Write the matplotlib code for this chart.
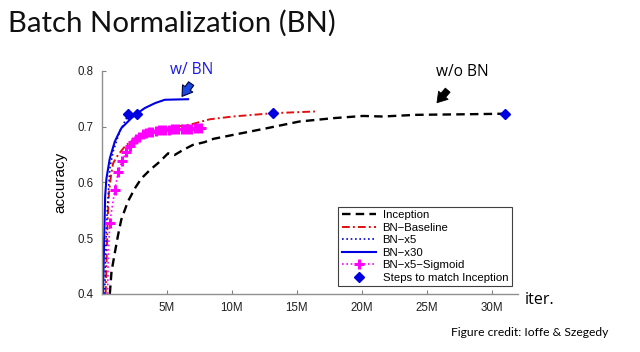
import matplotlib
matplotlib.use("Agg")
import matplotlib.pyplot as plt

# ---- data (x in millions of iterations) ----
inc_x = [0.62, 0.75, 1.0, 1.25, 1.5, 2.0, 2.54, 3.05, 3.7, 4.46, 5.1, 5.6, 6.25, 7.0, 7.9, 8.6,
         10.1, 12.7, 15.2, 17.8, 20.1, 21.6, 24.2, 28.0, 31.0]
inc_y = [0.40, 0.44, 0.473, 0.505, 0.533, 0.565, 0.589, 0.607, 0.622, 0.637, 0.652, 0.649, 0.658,
         0.667, 0.672, 0.678, 0.685, 0.697, 0.709, 0.715, 0.719, 0.718, 0.721, 0.722, 0.723]

base_x = [0.30, 0.38, 0.45, 0.55, 0.70, 0.87, 1.25, 1.8, 2.5, 3.5, 5.0, 6.9, 8.3, 10.1, 13.2, 16.4]
base_y = [0.40, 0.47, 0.53, 0.58, 0.61, 0.634, 0.649, 0.665, 0.678, 0.688, 0.697, 0.704, 0.713,
          0.718, 0.724, 0.727]

x5_x = [0.23, 0.31, 0.41, 0.49, 0.62, 0.87, 1.38, 1.9, 2.02]
x5_y = [0.40, 0.485, 0.545, 0.575, 0.625, 0.655, 0.691, 0.715, 0.723]

x30_x = [0.10, 0.18, 0.26, 0.36, 0.62, 1.0, 1.5, 2.28, 2.7, 3.3, 4.1, 4.85, 6.64]
x30_y = [0.40, 0.49, 0.575, 0.607, 0.643, 0.673, 0.697, 0.715, 0.723, 0.733, 0.742, 0.748, 0.749]

sig_x = [0.45, 0.50, 0.62, 1.0, 1.26, 1.56, 1.9, 2.15, 2.4, 2.65, 2.9, 3.15, 3.4, 3.65, 3.9, 4.15,
         4.4, 4.65, 4.9, 5.15, 5.4, 5.65, 5.9, 6.15, 6.4, 6.65, 6.9, 7.15, 7.4, 7.66]
sig_y = [0.40, 0.47, 0.528, 0.586, 0.618, 0.638, 0.655, 0.665, 0.672, 0.677, 0.682, 0.686, 0.688,
         0.690, 0.691, 0.692, 0.693, 0.693, 0.694, 0.694, 0.695, 0.695, 0.695, 0.696, 0.696, 0.696,
         0.696, 0.697, 0.697, 0.697]

match_x = [2.02, 2.7, 13.2, 31.0]
match_y = [0.723, 0.723, 0.724, 0.723]

xticks = [5, 10, 15, 20, 25, 30]
xtick_labels = ["5M", "10M", "15M", "20M", "25M", "30M"]
yticks = [0.4, 0.5, 0.6, 0.7, 0.8]
ytick_labels = ["0.4", "0.5", "0.6", "0.7", "0.8"]

labels = ["Inception", "BN\u2212Baseline", "BN\u2212x5", "BN\u2212x30", "BN\u2212x5\u2212Sigmoid",
          "Steps to match Inception"]

BLUE = "#0000e0"
RED = "#e01010"
MAG = "#ff00ff"

fig = plt.figure(figsize=(6.4, 3.52), dpi=100)
fig.patch.set_facecolor("white")
ax = fig.add_axes([0.159, 0.165, 0.650, 0.634])

tick_font = dict(family=["Liberation Sans", "DejaVu Sans"], size=8.3)

l_inc, = ax.plot(inc_x, inc_y, ls=(0, (3.6, 2.2)), color="black", lw=1.7)
l_base, = ax.plot(base_x, base_y, ls=(0, (4, 1.6, 1, 1.6)), color=RED, lw=1.4)
l_x5, = ax.plot(x5_x, x5_y, ls=(0, (1, 1.6)), color=BLUE, lw=1.2)
l_x30, = ax.plot(x30_x, x30_y, ls="-", color=BLUE, lw=1.5)
l_sig, = ax.plot(sig_x, sig_y, ls=(0, (1, 1.6)), color=MAG, lw=1.2, marker="+",
                 markersize=7, markeredgewidth=2.2, markevery=slice(2, None))
l_match, = ax.plot(match_x, match_y, ls="none", marker="D", markersize=5.5, color=BLUE,
                   markeredgecolor=BLUE)

ax.set_xlim(0, 32)
ax.set_ylim(0.4, 0.8)
ax.set_xticks(xticks)
ax.set_xticklabels(xtick_labels, **tick_font)
ax.set_yticks(yticks)
ax.set_yticklabels(ytick_labels, **tick_font)
ax.tick_params(direction="in", length=3, width=0.8, colors="#808080", labelcolor="#202020", pad=6)
for s in ["top", "right"]:
    ax.spines[s].set_visible(False)
for s in ["left", "bottom"]:
    ax.spines[s].set_color("#909090")
    ax.spines[s].set_linewidth(1.0)

ax.set_ylabel("accuracy", family=["Liberation Sans", "DejaVu Sans"], size=11, labelpad=7)

leg = ax.legend([l_inc, l_base, l_x5, l_x30, l_sig, l_match], labels,
                loc="lower right", bbox_to_anchor=(0.985, 0.035), fancybox=False,
                framealpha=1, edgecolor="#404040", prop=dict(family="Liberation Sans", size=8.2),
                handlelength=3.0, labelspacing=0.22, borderpad=0.3, handletextpad=0.6,
                borderaxespad=0)
leg.get_frame().set_linewidth(0.8)

# annotations
ax.text(6.9, 0.801, "w/ BN", color="#1a1ae6", family="Open Sans", size=11.2, ha="center",
        va="center", clip_on=False)
ax.annotate("", xy=(6.05, 0.750), xytext=(7.0, 0.781), annotation_clip=False,
            arrowprops=dict(arrowstyle="simple,head_length=0.7,head_width=0.9,tail_width=0.45",
                            fc="#1848e0", ec="#000040", lw=0.8))
ax.text(27.7, 0.798, "w/o BN", color="black", family="Open Sans", size=11.2, ha="center",
        va="center", clip_on=False)
ax.annotate("", xy=(25.65, 0.739), xytext=(26.75, 0.769), annotation_clip=False,
            arrowprops=dict(arrowstyle="simple,head_length=0.7,head_width=0.9,tail_width=0.45",
                            fc="black", ec="black", lw=0.6))

fig.text(8 / 640, 1 - 23 / 352, "Batch Normalization (BN)", family="Lato", size=21.2,
         ha="left", va="center", color="#111111")
fig.text(525 / 640, 1 - 300 / 352, "iter.", family="Open Sans", size=11.5, ha="left",
         va="center", color="black")
fig.text(451 / 640, 1 - 332 / 352, "Figure credit: Ioffe & Szegedy", family="Lato", size=8.7,
         ha="left", va="center", color="black")

fig.savefig("out.png", dpi=100, facecolor="white")
